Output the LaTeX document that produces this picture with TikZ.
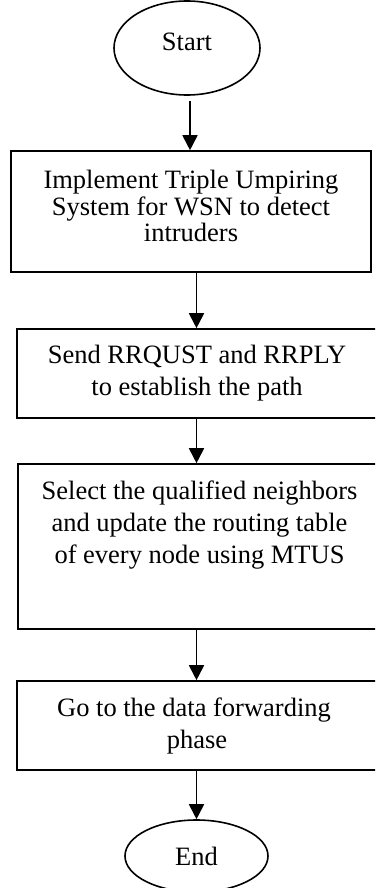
\documentclass[tikz,border=0pt]{standalone}
\usepackage{fontspec}
\setmainfont{Liberation Serif}
\usetikzlibrary{arrows.meta,shapes.geometric}
\begin{document}
\begin{tikzpicture}[x=1pt,y=-1pt,
  flowbox/.style={draw, line width=1.6pt, rectangle, minimum width=360pt, inner sep=0pt},
  term/.style={draw, line width=1.6pt, ellipse, inner sep=0pt, font=\fontsize{26.5}{27}\selectfont},
  txta/.style={align=center, inner sep=0pt, font=\fontsize{26.5}{26.7}\selectfont},
  txtb/.style={align=center, inner sep=0pt, font=\fontsize{26.5}{32}\selectfont},
  arr/.style={line width=1.8pt, -{Triangle[length=15pt,width=15pt]}}]
\clip (0,0) rectangle (375,888);
\useasboundingbox (0,0) rectangle (375,888);
% terminals
\node[term, minimum width=146pt, minimum height=94pt, text height=17pt, text depth=12pt] (start) at (187,48) {Start};
\node[term, minimum width=143pt, minimum height=72pt] (end) at (196.5,856) {End};
% boxes
\node[flowbox, minimum height=121pt] (b1) at (191,211.5) {};
\node[flowbox, minimum height=89pt] (b2) at (197,373.5) {};
\node[flowbox, minimum height=165pt] (b3) at (198,546.5) {};
\node[flowbox, minimum height=89pt] (b4) at (197,725.5) {};
% texts
\node[txta] (b1t) at ([yshift=5.5pt]b1.center) {Implement Triple Umpiring\\System for WSN to detect\\intruders};
\node[txtb] (b2t) at ([yshift=0.5pt]b2.center) {Send RRQUST and RRPLY\\to establish the path};
\node[txtb] (b3t) at ([xshift=1.5pt,yshift=21pt]b3.center) {Select the qualified neighbors\\and update the routing table\\of every node using MTUS};
\node[txtb] (b4t) at ([yshift=-0.5pt]b4.center) {Go to the data forwarding\hspace*{6pt}\\phase};
% connectors
\draw[arr] ([xshift=3pt,yshift=-5pt]start.south) -- ([xshift=3pt]start.south |- b1.north);
\draw[arr] (b1.south -| end.north) -- (b2.north -| end.north);
\draw[arr] (b2.south -| end.north) -- (b3.north -| end.north);
\draw[arr] (b3.south -| end.north) -- (b4.north -| end.north);
\draw[arr] (b4.south -| end.north) -- (end.north);
\end{tikzpicture}
\end{document}
